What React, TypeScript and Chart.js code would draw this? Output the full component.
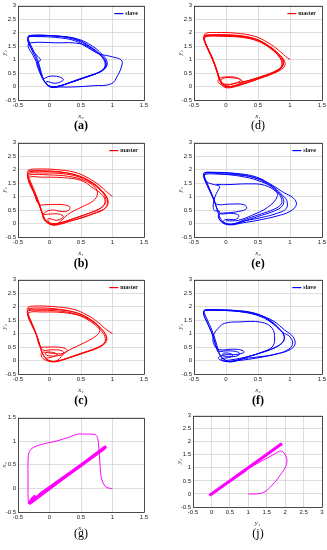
import React, { useEffect, useRef } from "react";
import { Chart, registerables } from "chart.js";
Chart.register(...registerables);

type P = [number, number];

// ---------- data ----------
const slaveA: P[] = [
  [0.0, 0.0], [0.3, -0.02], [0.7, 0.03], [0.98, 0.1], [1.08, 0.4], [1.15, 0.8], [1.14, 0.98], [1.0, 1.1], [0.78, 1.22], [0.6, 1.45], [0.4, 1.7], [0.1, 1.82], [-0.2, 1.85], [-0.33, 1.83],
  [-0.34, 1.7], [-0.27, 1.35], [-0.18, 1.1], [-0.14, 0.98], [-0.2, 0.88], [-0.17, 0.6], [-0.12, 0.35], [-0.05, 0.1], [0.05, -0.04], [0.2, 0.05],
  [0.4, 0.22], [0.6, 0.38], [0.8, 0.55], [0.88, 0.75], [0.86, 1.0], [0.76, 1.25], [0.58, 1.55], [0.35, 1.78], [0.05, 1.88], [-0.3, 1.88],
  [-0.35, 1.75], [-0.29, 1.4], [-0.2, 0.95], [-0.14, 0.5], [-0.1, 0.3], [0.0, 0.38], [0.15, 0.36], [0.22, 0.25], [0.1, 0.12], [-0.05, 0.18], [-0.02, 0.02], [0.1, -0.03],
  [0.3, 0.12], [0.52, 0.3], [0.72, 0.46], [0.86, 0.62], [0.9, 0.85], [0.84, 1.1], [0.72, 1.3], [0.5, 1.58], [0.1, 1.62], [-0.3, 1.62],
  [-0.34, 1.5], [-0.26, 1.15], [-0.17, 0.7], [-0.12, 0.35], [-0.06, 0.12], [0.03, 0.0], [0.15, 0.02],
  [0.35, 0.16], [0.56, 0.33], [0.76, 0.5], [0.87, 0.68], [0.89, 0.92], [0.81, 1.18], [0.66, 1.46], [0.44, 1.74], [0.15, 1.86], [-0.15, 1.9], [-0.33, 1.88],
  [-0.34, 1.78], [-0.28, 1.45], [-0.19, 1.0], [-0.13, 0.52], [-0.08, 0.2], [0.0, 0.02], [0.12, 0.0], [0.32, 0.14], [0.55, 0.32], [0.78, 0.52], [0.9, 0.72], [0.91, 0.95], [0.83, 1.2], [0.68, 1.5], [0.45, 1.76], [0.15, 1.87], [-0.2, 1.87], [-0.34, 1.86],
];

const masterD: P[] = [
  [1.0, 1.0], [0.93, 1.12], [0.82, 1.35], [0.66, 1.62], [0.45, 1.86], [0.15, 1.98], [-0.15, 2.0], [-0.32, 1.97],
  [-0.34, 1.82], [-0.3, 1.5], [-0.22, 1.05], [-0.15, 0.6], [-0.1, 0.25], [-0.04, 0.0], [0.05, -0.05], [0.15, 0.0],
  [0.3, 0.12], [0.5, 0.28], [0.7, 0.45], [0.84, 0.62], [0.88, 0.85], [0.83, 1.1], [0.7, 1.4], [0.5, 1.68], [0.25, 1.82], [-0.05, 1.86], [-0.3, 1.86],
  [-0.34, 1.75], [-0.28, 1.4], [-0.2, 0.95], [-0.13, 0.5], [-0.08, 0.2], [0.0, 0.05], [0.1, 0.1], [0.22, 0.2], [0.2, 0.3], [0.05, 0.36], [-0.1, 0.3], [-0.12, 0.15], [0.0, 0.0], [0.15, 0.02],
  [0.35, 0.15], [0.55, 0.32], [0.75, 0.5], [0.9, 0.7], [0.92, 0.9], [0.85, 1.15], [0.72, 1.42], [0.52, 1.7], [0.3, 1.85], [0.0, 1.9], [-0.32, 1.9],
  [-0.35, 1.8], [-0.29, 1.45], [-0.2, 1.0], [-0.14, 0.55], [-0.1, 0.25], [-0.02, 0.02], [0.08, -0.02], [0.2, 0.08], [0.25, 0.22], [0.12, 0.32], [-0.05, 0.3], [-0.08, 0.15], [0.05, 0.08], [0.2, 0.15],
  [0.4, 0.25], [0.6, 0.4], [0.8, 0.58], [0.87, 0.78], [0.86, 1.0], [0.78, 1.25], [0.62, 1.55], [0.4, 1.78], [0.1, 1.88], [-0.2, 1.88], [-0.33, 1.84],
  [-0.34, 1.7], [-0.27, 1.3], [-0.18, 0.85], [-0.12, 0.45], [-0.07, 0.15], [0.02, 0.0], [0.12, 0.03], [0.3, 0.18], [0.52, 0.35], [0.72, 0.52], [0.86, 0.72], [0.9, 0.95], [0.82, 1.2], [0.68, 1.48], [0.46, 1.74], [0.2, 1.86], [-0.1, 1.88], [-0.33, 1.87],
  [-0.35, 1.78], [-0.3, 1.5], [-0.21, 1.0], [-0.13, 0.5], [-0.09, 0.22], [-0.03, 0.05], [0.06, 0.0], [0.18, 0.05], [0.38, 0.2], [0.58, 0.36], [0.77, 0.55], [0.89, 0.76], [0.88, 1.0], [0.8, 1.22], [0.66, 1.52], [0.44, 1.78], [0.16, 1.9], [-0.15, 1.92], [-0.34, 1.9],
];

const masterB: P[] = [
  [1.0, 1.0], [0.92, 1.15], [0.8, 1.4], [0.62, 1.68], [0.4, 1.9], [0.1, 2.0], [-0.2, 2.02], [-0.33, 1.98],
  [-0.35, 1.85], [-0.3, 1.55], [-0.22, 1.1], [-0.15, 0.65], [-0.1, 0.3], [-0.03, 0.03], [0.06, -0.06], [0.18, -0.02],
  [0.35, 0.1], [0.55, 0.25], [0.75, 0.42], [0.9, 0.6], [0.93, 0.85], [0.87, 1.1], [0.75, 1.38], [0.55, 1.68], [0.3, 1.86], [0.0, 1.92], [-0.32, 1.92],
  [-0.35, 1.78], [-0.3, 1.45], [-0.22, 1.0], [-0.14, 0.55], [-0.1, 0.3], [-0.05, 0.1], [0.05, 0.0], [0.2, 0.05],
  [0.38, 0.18], [0.58, 0.34], [0.78, 0.52], [0.88, 0.72], [0.89, 0.95], [0.82, 1.2], [0.68, 1.48], [0.48, 1.72], [0.2, 1.85], [-0.1, 1.87], [-0.33, 1.86],
  [-0.34, 1.72], [-0.28, 1.35], [-0.19, 0.9], [-0.13, 0.5], [-0.1, 0.35], [0.0, 0.35], [0.15, 0.35], [0.22, 0.25], [0.12, 0.12], [-0.02, 0.18], [0.0, 0.02], [0.12, -0.02],
  [0.3, 0.12], [0.5, 0.28], [0.7, 0.45], [0.85, 0.65], [0.88, 0.88], [0.82, 1.1], [0.7, 1.3], [0.5, 1.6], [0.2, 1.7], [-0.15, 1.72], [-0.32, 1.72],
  [-0.33, 1.55], [-0.25, 1.15], [-0.17, 0.72], [-0.05, 0.7], [0.2, 0.7], [0.32, 0.62], [0.3, 0.48], [0.18, 0.45], [0.05, 0.5], [-0.08, 0.4], [-0.1, 0.2], [-0.02, 0.02], [0.1, -0.04],
  [0.3, 0.35], [0.5, 0.6], [0.7, 0.85], [0.76, 1.1], [0.72, 1.35], [0.55, 1.6], [0.3, 1.75], [0.0, 1.8], [-0.33, 1.8],
  [-0.34, 1.66], [-0.27, 1.28], [-0.19, 0.85], [-0.13, 0.45], [-0.08, 0.15], [0.0, -0.02], [0.12, -0.03], [0.3, 0.08],
  [0.5, 0.2], [0.7, 0.36], [0.86, 0.52], [0.92, 0.75], [0.9, 1.0], [0.82, 1.25], [0.66, 1.55], [0.42, 1.8], [0.12, 1.93], [-0.18, 1.96], [-0.34, 1.95],
];

const masterC: P[] = [
  [1.0, 1.0], [0.9, 1.15], [0.78, 1.4], [0.6, 1.68], [0.38, 1.9], [0.05, 2.0], [-0.25, 2.02], [-0.34, 1.97],
  [-0.35, 1.82], [-0.3, 1.5], [-0.22, 1.05], [-0.16, 0.6], [-0.12, 0.3], [-0.05, 0.05], [0.05, -0.05], [0.18, 0.0],
  [0.38, 0.15], [0.6, 0.32], [0.8, 0.5], [0.9, 0.7], [0.9, 0.92], [0.82, 1.18], [0.68, 1.48], [0.46, 1.75], [0.15, 1.88], [-0.15, 1.9], [-0.33, 1.88],
  [-0.35, 1.75], [-0.29, 1.4], [-0.21, 0.95], [-0.15, 0.52], [-0.08, 0.5], [0.1, 0.5], [0.25, 0.45], [0.28, 0.35], [0.18, 0.25], [0.0, 0.28], [-0.12, 0.3], [-0.12, 0.12], [-0.02, -0.02], [0.1, -0.03],
  [0.3, 0.1], [0.52, 0.28], [0.74, 0.46], [0.87, 0.65], [0.88, 0.88], [0.8, 1.15], [0.65, 1.45], [0.42, 1.72], [0.12, 1.84], [-0.18, 1.86], [-0.34, 1.84],
  [-0.34, 1.7], [-0.28, 1.35], [-0.2, 0.9], [-0.14, 0.5], [-0.1, 0.38], [0.05, 0.4], [0.2, 0.36], [0.22, 0.25], [0.1, 0.17], [-0.05, 0.2], [-0.06, 0.3], [0.05, 0.3], [0.12, 0.22], [0.03, 0.12], [-0.05, 0.08], [0.0, -0.01], [0.12, 0.0],
  [0.25, 0.3], [0.5, 0.6], [0.72, 0.88], [0.8, 1.12], [0.72, 1.38], [0.5, 1.65], [0.2, 1.78], [-0.12, 1.8], [-0.33, 1.78],
  [-0.34, 1.62], [-0.27, 1.25], [-0.19, 0.85], [-0.14, 0.45], [-0.09, 0.18], [-0.02, 0.02], [0.08, -0.04], [0.22, 0.04],
  [0.42, 0.2], [0.64, 0.37], [0.82, 0.55], [0.9, 0.76], [0.88, 1.0], [0.79, 1.25], [0.62, 1.55], [0.38, 1.8], [0.08, 1.92], [-0.2, 1.95], [-0.34, 1.93],
];

const slaveE: P[] = [
  [0.0, 0.1], [0.1, 0.1], [0.2, 0.12], [0.4, 0.3], [0.65, 0.6], [0.8, 1.0], [0.75, 1.3], [0.55, 1.55], [0.3, 1.72], [0.0, 1.82], [-0.3, 1.88],
  [-0.34, 1.78], [-0.3, 1.55], [-0.2, 1.45], [-0.1, 1.38], [-0.12, 1.25], [-0.17, 1.0], [-0.2, 0.65], [-0.18, 0.48], [-0.1, 0.45], [-0.12, 0.25], [-0.05, 0.02], [0.08, -0.05], [0.25, 0.02],
  [0.5, 0.12], [0.8, 0.28], [1.0, 0.45], [1.1, 0.7], [1.05, 0.95], [0.9, 1.15], [0.7, 1.45], [0.45, 1.7], [0.15, 1.84], [-0.15, 1.88], [-0.34, 1.87],
  [-0.35, 1.75], [-0.29, 1.4], [-0.21, 0.98], [-0.15, 0.72], [0.05, 0.72], [0.28, 0.7], [0.32, 0.55], [0.2, 0.45], [0.05, 0.4], [-0.1, 0.35], [-0.1, 0.15], [0.0, 0.0], [0.12, -0.02],
  [0.32, 0.12], [0.55, 0.3], [0.76, 0.47], [0.88, 0.65], [0.9, 0.88], [0.83, 1.12], [0.7, 1.38], [0.5, 1.65], [0.2, 1.8], [-0.12, 1.83], [-0.33, 1.82],
  [-0.34, 1.68], [-0.27, 1.3], [-0.19, 0.9], [-0.13, 0.5], [-0.08, 0.36], [0.08, 0.38], [0.2, 0.3], [0.15, 0.15], [0.0, 0.15], [-0.05, 0.05], [0.08, -0.03],
  [0.3, 0.1], [0.55, 0.22], [0.8, 0.38], [0.94, 0.55], [0.95, 0.85], [0.86, 1.1], [0.72, 1.4], [0.48, 1.72], [0.15, 1.86], [-0.2, 1.9], [-0.34, 1.88],
  [-0.34, 1.76], [-0.28, 1.42], [-0.2, 0.96], [-0.14, 0.52], [-0.09, 0.2], [-0.02, 0.02], [0.1, -0.02], [0.3, 0.15], [0.5, 0.32], [0.7, 0.48], [0.85, 0.68], [0.87, 0.9], [0.8, 1.15], [0.6, 1.42], [0.35, 1.47], [0.0, 1.44], [-0.15, 1.45],
];

const slaveF: P[] = [
  [0.0, 0.0], [0.15, 0.05], [0.35, 0.15], [0.55, 0.3], [0.72, 0.5], [0.76, 0.8], [0.72, 1.2], [0.55, 1.42], [0.2, 1.43], [-0.02, 1.38], [-0.12, 1.2], [-0.2, 0.9], [-0.18, 0.55], [-0.1, 0.4], [0.1, 0.42], [0.25, 0.38], [0.28, 0.3], [0.15, 0.22], [-0.05, 0.2], [-0.12, 0.08], [0.0, -0.04], [0.2, 0.0],
  [0.5, 0.1], [0.8, 0.25], [1.0, 0.4], [1.08, 0.62], [1.04, 0.9], [0.92, 1.12], [0.75, 1.45], [0.5, 1.7], [0.2, 1.82], [-0.12, 1.86], [-0.32, 1.86],
  [-0.35, 1.74], [-0.3, 1.45], [-0.22, 1.0], [-0.16, 0.55], [-0.12, 0.3], [-0.05, 0.08], [0.06, -0.05], [0.2, 0.02],
  [0.4, 0.18], [0.62, 0.34], [0.8, 0.52], [0.9, 0.72], [0.9, 0.95], [0.82, 1.2], [0.68, 1.5], [0.44, 1.76], [0.12, 1.86], [-0.2, 1.88], [-0.34, 1.86],
  [-0.35, 1.72], [-0.29, 1.38], [-0.21, 0.95], [-0.15, 0.5], [-0.12, 0.35], [0.05, 0.36], [0.2, 0.3], [0.2, 0.2], [0.08, 0.14], [-0.05, 0.18], [-0.04, 0.27], [0.08, 0.25], [0.1, 0.17], [0.02, 0.1], [-0.08, 0.06], [0.0, -0.03], [0.14, 0.0],
  [0.34, 0.14], [0.56, 0.3], [0.78, 0.5], [0.89, 0.7], [0.91, 0.92], [0.84, 1.16], [0.7, 1.45], [0.48, 1.72], [0.18, 1.84], [-0.14, 1.88], [-0.33, 1.87],
  [-0.34, 1.78], [-0.28, 1.45], [-0.2, 1.0], [-0.14, 0.55], [-0.1, 0.25], [-0.03, 0.04], [0.08, -0.03], [0.25, 0.06], [0.45, 0.12], [0.75, 0.22], [0.95, 0.38], [1.04, 0.6], [1.0, 0.88], [0.88, 1.05], [0.74, 1.35], [0.55, 1.62], [0.25, 1.8], [-0.1, 1.86], [-0.33, 1.85],
];

const gTransient: P[] = [
  [1.0, 0.0], [0.93, 0.01], [0.87, 0.07], [0.82, 0.25], [0.8, 0.55], [0.78, 0.9], [0.76, 1.08], [0.72, 1.14], [0.55, 1.15], [0.45, 1.15], [0.3, 1.08], [0.1, 1.0], [-0.1, 0.94], [-0.25, 0.87], [-0.32, 0.78], [-0.34, 0.6], [-0.34, 0.2], [-0.34, -0.2], [-0.33, -0.33],
];
const gSync: P[] = [
  [-0.33, -0.33], [-0.28, -0.22], [-0.24, -0.17], [-0.2, -0.2], [-0.15, -0.12], [0.9, 0.88], [-0.32, -0.31], [0.88, 0.86], [-0.3, -0.3], [0.87, 0.84], [-0.31, -0.29], [0.89, 0.87], [-0.33, -0.32], [0.86, 0.85], [-0.29, -0.27], [0.9, 0.89], [-0.32, -0.33], [0.88, 0.88],
];
const jTransient: P[] = [
  [1.0, 0.0], [1.15, 0.0], [1.3, 0.01], [1.42, 0.06], [1.55, 0.2], [1.72, 0.45], [1.88, 0.75], [2.0, 1.0], [2.05, 1.25], [2.02, 1.45], [1.95, 1.6], [1.88, 1.65], [1.8, 1.6], [1.6, 1.44], [1.35, 1.25], [1.1, 1.05], [0.95, 0.93],
];
const jSync: P[] = [
  [0.95, 0.93], [-0.05, -0.06], [1.9, 1.93], [-0.03, -0.04], [1.88, 1.9], [-0.06, -0.05], [1.92, 1.92], [0.0, -0.02], [1.89, 1.91],
];

const BLUE = "#0000ff";
const RED = "#ff0000";
const MAGENTA = "#ff00ff";

const xy = (a: P[]) => a.map(([x, y]) => ({ x, y }));

// ---------- plugins ----------
const framePlugin = {
  id: "frame",
  afterDatasetsDraw(chart: any) {
    const { ctx, chartArea: a } = chart;
    ctx.save();
    ctx.strokeStyle = "#262626";
    ctx.lineWidth = 0.8;
    ctx.strokeRect(Math.round(a.left) + 0.5, Math.round(a.top) + 0.5, Math.round(a.right - a.left), Math.round(a.bottom - a.top));
    ctx.restore();
  },
};
const miniLegend = {
  id: "miniLegend",
  afterDatasetsDraw(chart: any, _args: any, opts: any) {
    if (!opts || !opts.text) return;
    const { ctx, chartArea: a } = chart;
    ctx.save();
    ctx.font = "bold 6px 'Liberation Serif', serif";
    ctx.textBaseline = "middle";
    ctx.textAlign = "right";
    const y = a.top + 8;
    const tx = a.right - 6;
    const w = ctx.measureText(opts.text).width;
    ctx.fillStyle = "#111";
    ctx.fillText(opts.text, tx, y);
    ctx.strokeStyle = opts.color;
    ctx.lineWidth = 1.2;
    ctx.beginPath();
    ctx.moveTo(tx - w - 11, y);
    ctx.lineTo(tx - w - 2, y);
    ctx.stroke();
    ctx.restore();
  },
};

const YW = 18, PT = 5, PR = 8, XH = 20;

type PanelProps = {
  left: number; top: number; w: number; h: number;
  sets: { data: P[]; color: string; width?: number; tension?: number }[];
  xMin: number; xMax: number; yMin: number; yMax: number;
  xTitle: string; yTitle: string; legend?: string; legendColor?: string;
};

function Panel(p: PanelProps) {
  const ref = useRef<HTMLCanvasElement>(null);
  useEffect(() => {
    if (!ref.current) return;
    const tickFont = { size: 6, family: "'Liberation Sans', Arial, sans-serif" };
    const titleFont = { size: 7, family: "'Liberation Serif', serif", style: "italic" as const };
    const fmt = (v: any) => String(Math.round(Number(v) * 10) / 10);
    const chart = new Chart(ref.current, {
      type: "scatter",
      data: {
        datasets: p.sets.map((s) => ({
          data: xy(s.data),
          showLine: true,
          borderColor: s.color,
          backgroundColor: s.color,
          borderWidth: s.width ?? 1.0,
          pointRadius: 0,
          tension: s.tension ?? 0.4,
        })),
      },
      options: {
        animation: false,
        responsive: false,
        maintainAspectRatio: false,
        layout: { padding: { top: PT, right: PR, left: 0, bottom: 0 } },
        plugins: {
          legend: { display: false },
          tooltip: { enabled: false },
          miniLegend: { text: p.legend, color: p.legendColor },
        } as any,
        scales: {
          x: {
            type: "linear", min: p.xMin, max: p.xMax,
            ticks: { stepSize: 0.5, font: tickFont, color: "#222", padding: 2, maxRotation: 0, autoSkip: false, callback: fmt },
            grid: { color: "#d4d4d4", lineWidth: 0.8, drawTicks: false },
            border: { display: false },
            title: { display: true, text: p.xTitle, font: titleFont, color: "#222", padding: { top: 1, bottom: 0 } },
            afterFit: (s: any) => { s.height = XH; },
          },
          y: {
            type: "linear", min: p.yMin, max: p.yMax,
            ticks: { stepSize: 0.5, font: tickFont, color: "#222", padding: 2, autoSkip: false, callback: fmt },
            grid: { color: "#d4d4d4", lineWidth: 0.8, drawTicks: false },
            border: { display: false },
            title: { display: true, text: p.yTitle, font: titleFont, color: "#222", padding: { top: 0, bottom: 0 } },
            afterFit: (s: any) => { s.width = YW; },
          },
        },
      },
      plugins: [framePlugin, miniLegend],
    });
    return () => chart.destroy();
  }, []);
  const cw = p.w + YW + PR;
  const ch = p.h + PT + XH;
  return (
    <canvas
      ref={ref}
      width={cw}
      height={ch}
      style={{ position: "absolute", left: p.left - YW, top: p.top - PT, width: cw, height: ch }}
    />
  );
}

function Label({ x, y, text, bold }: { x: number; y: number; text: string; bold?: boolean }) {
  return (
    <div
      style={{
        position: "absolute", left: x - 20, top: y - 8, width: 40, height: 16, lineHeight: "16px",
        textAlign: "center", fontFamily: "'Liberation Serif', serif", fontSize: 12, fontWeight: bold ? "bold" : "normal", color: "#000",
      }}
    >
      {text}
    </div>
  );
}

export default function App() {
  const L = 18, R = 194, W = 126, WR = 128, H = 95;
  const base = { xMin: -0.5, xMax: 1.5, yMin: -0.5, yMax: 3 };
  return (
    <div style={{ position: "fixed", left: 0, top: 0, width: 327, height: 550, background: "#fff", overflow: "hidden" }}>
      <Panel left={L} top={5} w={W} h={H} {...base} sets={[{ data: slaveA, color: BLUE }]} xTitle="x₂" yTitle="y₂" legend="slave" legendColor={BLUE} />
      <Panel left={R} top={5} w={WR} h={H} {...base} sets={[{ data: masterD, color: RED }]} xTitle="x₁" yTitle="y₁" legend="master" legendColor={RED} />
      <Panel left={L} top={142} w={W} h={H} {...base} sets={[{ data: masterB, color: RED }]} xTitle="x₁" yTitle="y₁" legend="master" legendColor={RED} />
      <Panel left={R} top={142} w={WR} h={H} {...base} sets={[{ data: slaveE, color: BLUE }]} xTitle="x₂" yTitle="y₂" legend="slave" legendColor={BLUE} />
      <Panel left={L} top={279} w={W} h={H} {...base} sets={[{ data: masterC, color: RED }]} xTitle="x₁" yTitle="y₁" legend="master" legendColor={RED} />
      <Panel left={R} top={279} w={WR} h={H} {...base} sets={[{ data: slaveF, color: BLUE }]} xTitle="x₂" yTitle="y₂" legend="slave" legendColor={BLUE} />
      <Panel left={L} top={417} w={W} h={H} xMin={-0.5} xMax={1.5} yMin={-0.5} yMax={1.5}
        sets={[{ data: gTransient, color: MAGENTA }, { data: gSync, color: MAGENTA, width: 2.6, tension: 0 }]} xTitle="x₁" yTitle="x₂" />
      <Panel left={193} top={415} w={129} h={92} xMin={-0.5} xMax={3} yMin={-0.5} yMax={3}
        sets={[{ data: jTransient, color: MAGENTA }, { data: jSync, color: MAGENTA, width: 2.4, tension: 0 }]} xTitle="y₁" yTitle="y₂" />
      <Label x={81} y={125} text="(a)" bold />
      <Label x={258} y={125} text="(d)" />
      <Label x={81} y={263} text="(b)" bold />
      <Label x={258} y={263} text="(e)" bold />
      <Label x={81} y={400} text="(c)" bold />
      <Label x={258} y={400} text="(f)" bold />
      <Label x={81} y={533} text="(g)" />
      <Label x={258} y={533} text="(j)" />
    </div>
  );
}
